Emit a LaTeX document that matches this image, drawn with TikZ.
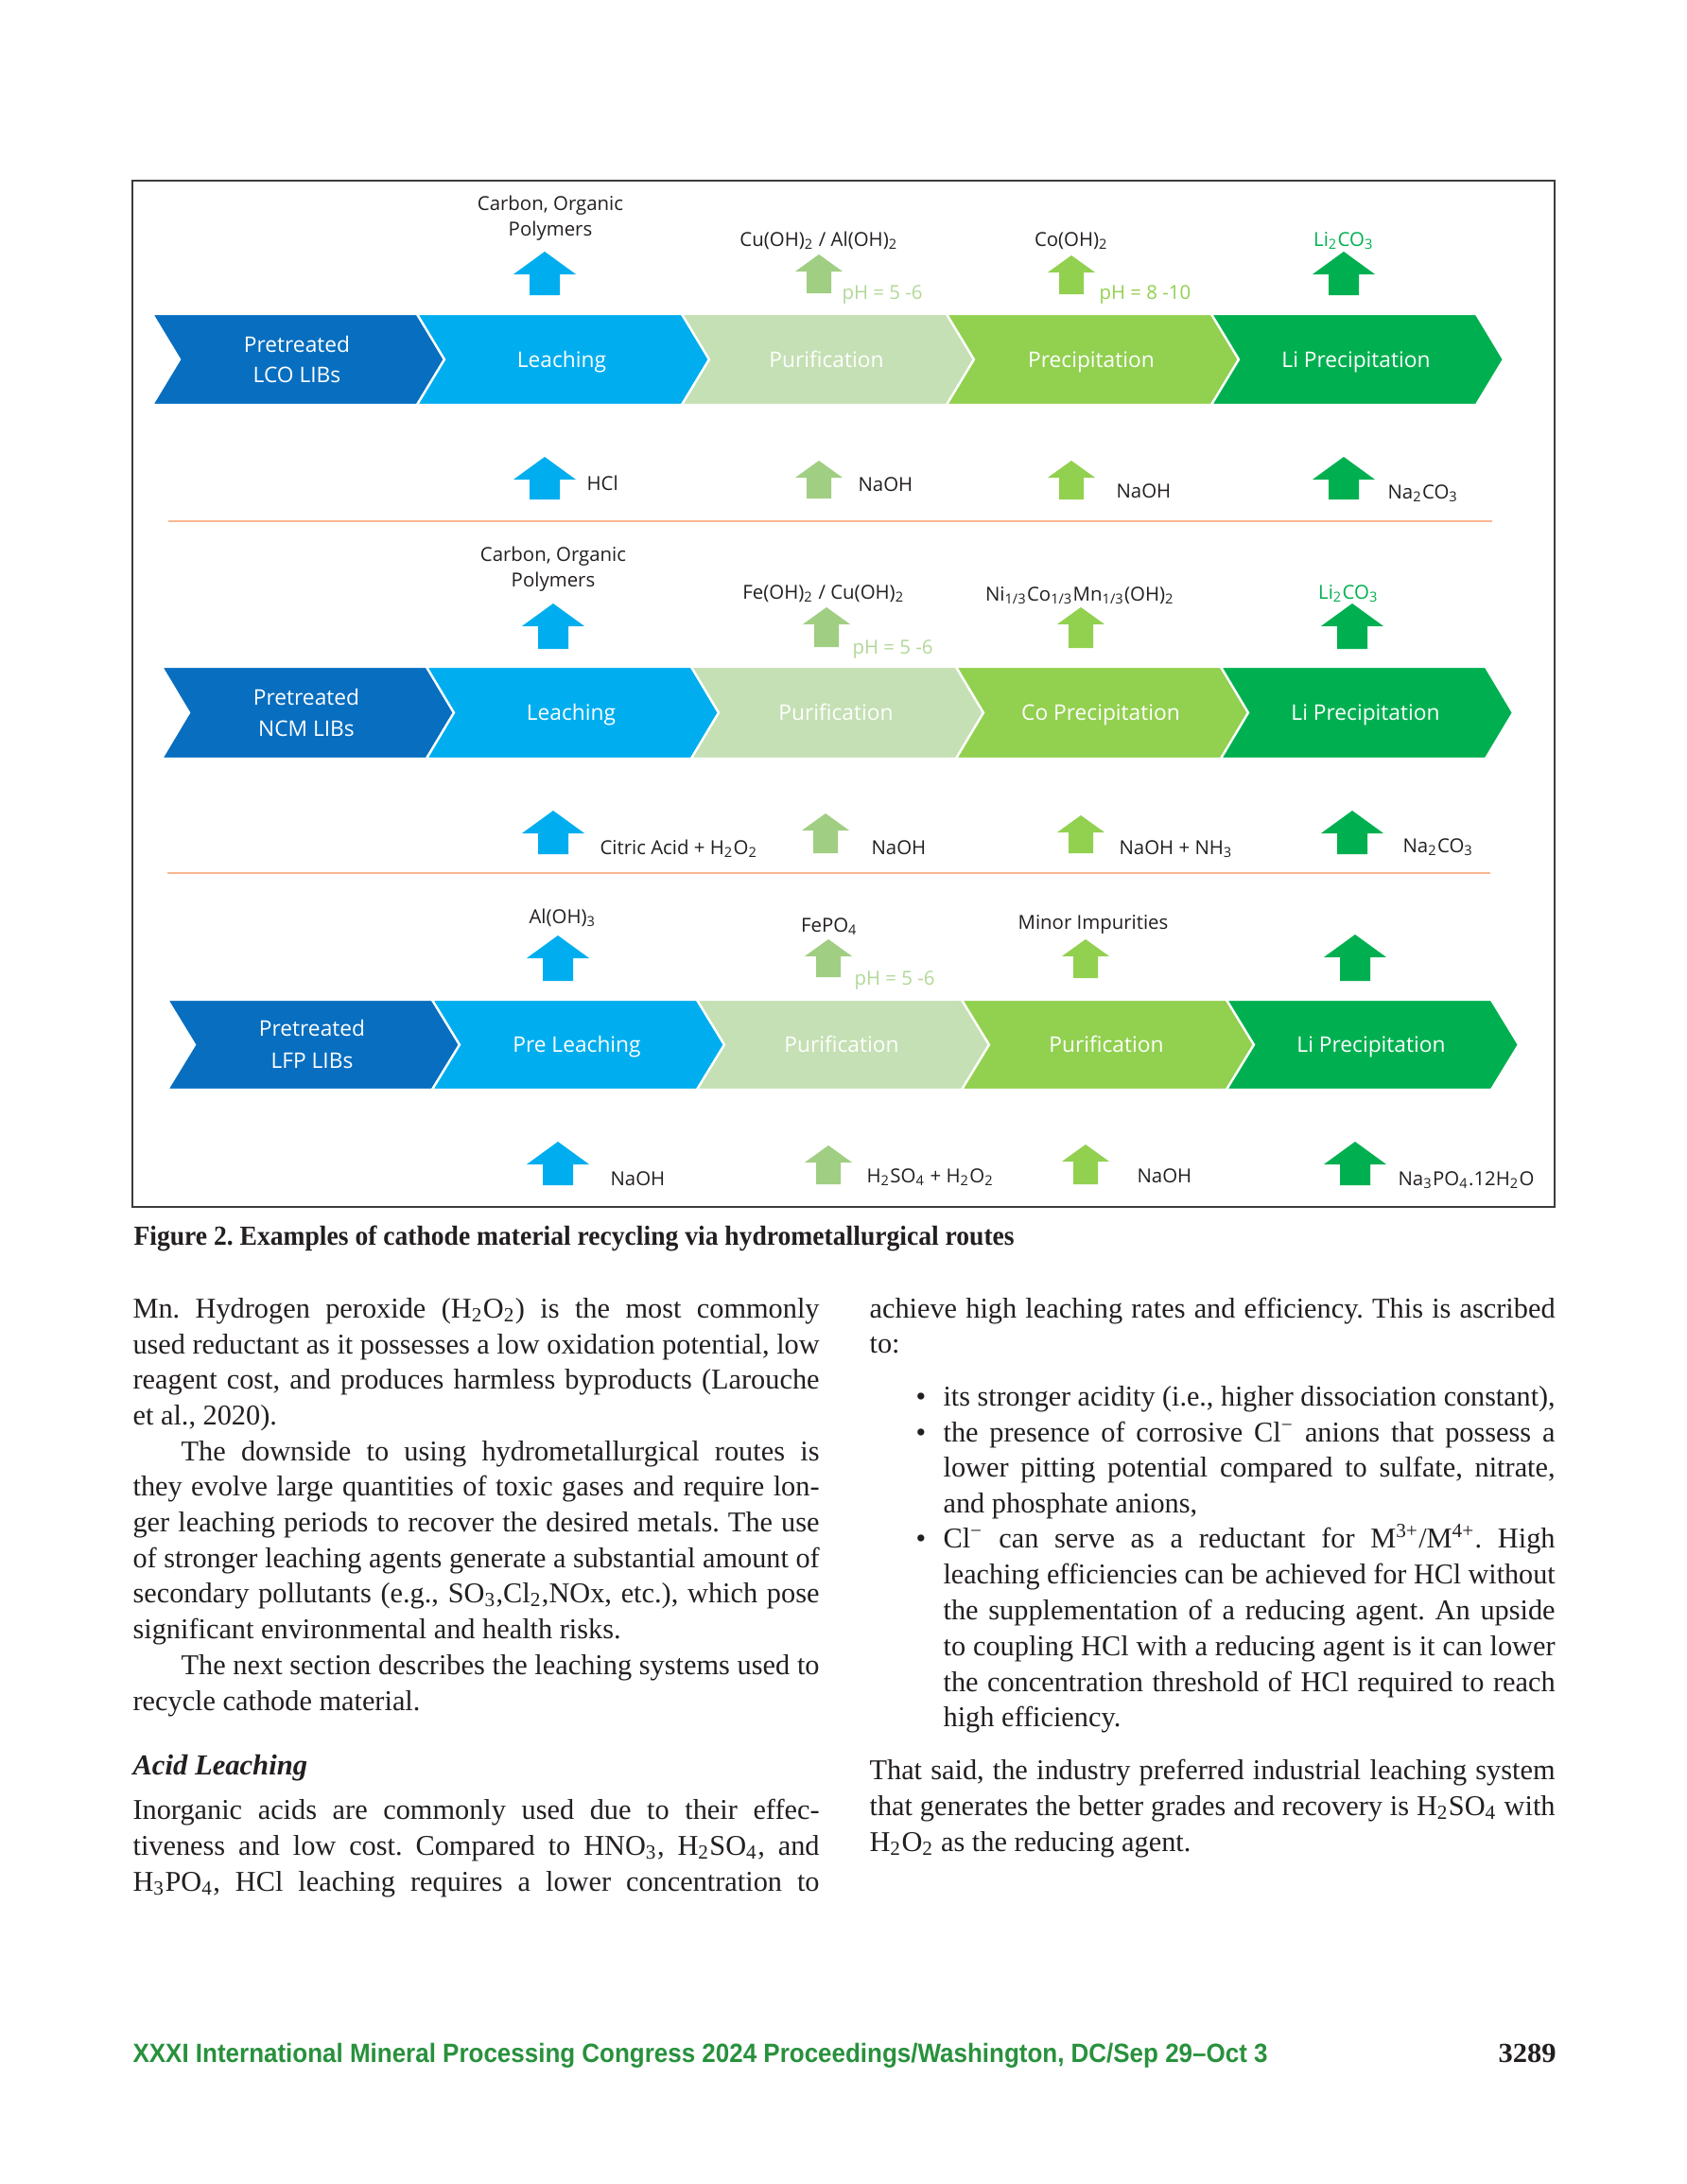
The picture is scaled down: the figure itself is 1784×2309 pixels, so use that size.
\documentclass[tikz,border=0pt]{standalone}
\usepackage{fontspec}
\setmainfont{Liberation Serif}
\newfontfamily\osans{Open Sans}
\newfontfamily\lsans{Liberation Sans}
\usepackage{graphicx}
\frenchspacing
\definecolor{darkblue}{RGB}{8,110,192}
\definecolor{leachblue}{RGB}{0,174,239}
\definecolor{purgreen}{RGB}{197,224,180}
\definecolor{purarrow}{RGB}{160,206,130}
\definecolor{precgreen}{RGB}{146,208,80}
\definecolor{ligreen}{RGB}{0,176,80}
\definecolor{phpale}{RGB}{178,216,152}
\definecolor{sepor}{RGB}{248,184,144}
\definecolor{footgreen}{RGB}{40,145,60}
\definecolor{ink}{RGB}{35,31,32}
\definecolor{framec}{RGB}{60,60,60}
\newdimen\pxu \pxu=0.34305pt
\newsavebox\lbox
\newcommand\jl[2]{\sbox\lbox{#2}\ifdim\wd\lbox>#1\relax\resizebox{#1}{\height}{\usebox\lbox}\else\makebox[#1][s]{#2}\fi}
\newcommand\dn[1]{\textsubscript{#1}}
\newcommand\upx[1]{\textsuperscript{#1}}
\newcommand\bigarr[4]{\fill[#4] (#1,#2) -- (#1+33,#2+24) -- (#1+16,#2+24) -- (#1+16,#3) -- (#1-16,#3) -- (#1-16,#2+24) -- (#1-33,#2+24) -- cycle;}
\newcommand\smarr[4]{\fill[#4] (#1,#2) -- (#1+25,#2+18) -- (#1+13,#2+18) -- (#1+13,#3) -- (#1-13,#3) -- (#1-13,#2+18) -- (#1-25,#2+18) -- cycle;}
\newcommand\chevrow[3]{\foreach \i/\c in {0/darkblue,1/leachblue,2/purgreen,3/precgreen,4/ligreen}{\fill[\c, draw=white, line width=0.8pt, line join=miter] ({#1+\i*280},#2) -- ({#1+\i*280+280},#2) -- ({#1+\i*280+309},{(#2+#3)/2}) -- ({#1+\i*280+280},#3) -- ({#1+\i*280},#3) -- ({#1+\i*280+29},{(#2+#3)/2}) -- cycle;}}
\begin{document}
\begin{tikzpicture}[x=0.34305pt,y=-0.34305pt,
  lab/.style={font=\osans\fontsize{7}{8}\selectfont, text=ink, inner sep=0, anchor=base},
  labw/.style={lab, anchor=base west},
  chl/.style={font=\osans\fontsize{7.8}{9}\selectfont, text=white, inner sep=0, anchor=base},
  body/.style={font=\fontsize{10.4}{12}\selectfont, text=ink, inner sep=0, anchor=base west},
  sep/.style={sepor, line width=0.7pt}]
\useasboundingbox (0,0) rectangle (1784,2309);
\fill[white] (0,0) rectangle (1784,2309);
% frame
\draw[framec, line width=1pt] (140,191) rectangle (1644,1276);
% ---------- row 1 : LCO
\chevrow{161}{332}{428}
\node[chl] (a0a) at (314,372) {Pretreated};
\node[chl] (a0b) at (314,404) {LCO LIBs};
\node[chl] (a1) at (594,388) {Leaching};
\node[chl] (a2) at (874,388) {Purification};
\node[chl] (a3) at (1154,388) {Precipitation};
\node[chl] (a4) at (1434,388) {Li Precipitation};
\node[lab] (at1a) at (582,222) {Carbon, Organic};
\node[lab] (at1b) at (582,249) {Polymers};
\node[lab] (at2) at (866,260) {Cu(OH)\dn{2} / Al(OH)\dn{2}};
\node[lab] (at3) at (1133,260) {Co(OH)\dn{2}};
\node[lab, text=ligreen] (at4) at (1421,260) {Li\dn{2}CO\dn{3}};
\node[labw, text=phpale] (aph1) at (890,316) {pH = 5 -6};
\node[labw, text=precgreen] (aph2) at (1162,316) {pH = 8 -10};
\bigarr{576}{266}{312}{leachblue}
\smarr{866}{269}{310}{purarrow}
\smarr{1133}{270}{311}{precgreen}
\bigarr{1421}{266}{312}{ligreen}
\bigarr{576}{483}{528}{leachblue}
\smarr{866}{487}{527}{purarrow}
\smarr{1133}{487}{528}{precgreen}
\bigarr{1421}{483}{528}{ligreen}
\node[labw] (ab1) at (620,518) {HCl};
\node[labw] (ab2) at (907,519) {NaOH};
\node[labw] (ab3) at (1180,526) {NaOH};
\node[labw] (ab4) at (1467,527) {Na\dn{2}CO\dn{3}};
\draw[sep] (178,551) -- (1578,551);
% ---------- row 2 : NCM
\chevrow{171}{705}{802}
\node[chl] (b0a) at (324,745) {Pretreated};
\node[chl] (b0b) at (324,778) {NCM LIBs};
\node[chl] (b1) at (604,761) {Leaching};
\node[chl] (b2) at (884,761) {Purification};
\node[chl] (b3) at (1164,761) {Co Precipitation};
\node[chl] (b4) at (1444,761) {Li Precipitation};
\node[lab] (bt1a) at (585,593) {Carbon, Organic};
\node[lab] (bt1b) at (585,620) {Polymers};
\node[lab] (bt2) at (871,633) {Fe(OH)\dn{2} / Cu(OH)\dn{2}};
\node[lab] (bt3) at (1142,635) {Ni\dn{1/3}Co\dn{1/3}Mn\dn{1/3}(OH)\dn{2}};
\node[lab, text=ligreen] (bt4) at (1426,633) {Li\dn{2}CO\dn{3}};
\node[labw, text=phpale] (bph1) at (901,691) {pH = 5 -6};
\bigarr{585}{638}{686}{leachblue}
\smarr{874}{642}{684}{purarrow}
\smarr{1143}{642}{685}{precgreen}
\bigarr{1430}{638}{686}{ligreen}
\bigarr{585}{857}{903}{leachblue}
\smarr{873}{860}{902}{purarrow}
\smarr{1143}{862}{902}{precgreen}
\bigarr{1430}{857}{903}{ligreen}
\node[labw] (bb1) at (634,903) {Citric Acid + H\dn{2}O\dn{2}};
\node[labw] (bb2) at (921,903) {NaOH};
\node[labw] (bb3) at (1183,903) {NaOH + NH\dn{3}};
\node[labw] (bb4) at (1483,901) {Na\dn{2}CO\dn{3}};
\draw[sep] (177,923) -- (1576,923);
% ---------- row 3 : LFP
\chevrow{177}{1057}{1152}
\node[chl] (c0a) at (330,1095) {Pretreated};
\node[chl] (c0b) at (330,1129) {LFP LIBs};
\node[chl] (c1) at (610,1112) {Pre Leaching};
\node[chl] (c2) at (890,1112) {Purification};
\node[chl] (c3) at (1170,1112) {Purification};
\node[chl] (c4) at (1450,1112) {Li Precipitation};
\node[lab] (ct1) at (595,976) {Al(OH)\dn{3}};
\node[lab] (ct2) at (877,985) {FePO\dn{4}};
\node[lab] (ct3) at (1156,982) {Minor Impurities};
\node[labw, text=phpale] (cph1) at (903,1041) {pH = 5 -6};
\bigarr{590}{989}{1037}{leachblue}
\smarr{876}{993}{1033}{purarrow}
\smarr{1148}{993}{1034}{precgreen}
\bigarr{1433}{988}{1037}{ligreen}
\bigarr{590}{1207}{1253}{leachblue}
\smarr{876}{1211}{1252}{purarrow}
\smarr{1148}{1210}{1252}{precgreen}
\bigarr{1433}{1207}{1253}{ligreen}
\node[labw] (cb1) at (645,1253) {NaOH};
\node[labw] (cb2) at (916,1250) {H\dn{2}SO\dn{4} + H\dn{2}O\dn{2}};
\node[labw] (cb3) at (1202,1250) {NaOH};
\node[labw] (cb4) at (1478,1253) {Na\dn{3}PO\dn{4}.12H\dn{2}O};
% ---------- caption
\node[body, font=\bfseries\fontsize{10}{12}\selectfont] (cap) at (141,1316) {\resizebox{931\pxu}{\height}{Figure 2. Examples of cathode material recycling via hydrometallurgical routes}};
% ---------- left column
\node[body] (l1) at (140,1393) {\jl{726\pxu}{Mn. Hydrogen peroxide (H\dn{2}O\dn{2}) is the most commonly}};
\node[body] (l2) at (140,1431) {\jl{726\pxu}{used reductant as it possesses a low oxidation potential, low}};
\node[body] (l3) at (140,1468) {\jl{726\pxu}{reagent cost, and produces harmless byproducts (Larouche}};
\node[body] (l4) at (140,1506) {et al., 2020).};
\node[body] (l5) at (191,1544) {\jl{675\pxu}{The downside to using hydrometallurgical routes is}};
\node[body] (l6) at (140,1581) {\jl{726\pxu}{they evolve large quantities of toxic gases and require lon-}};
\node[body] (l7) at (140,1619) {\jl{726\pxu}{ger leaching periods to recover the desired metals. The use}};
\node[body] (l8) at (140,1657) {\jl{726\pxu}{of stronger leaching agents generate a substantial amount of}};
\node[body] (l9) at (140,1694) {\jl{726\pxu}{secondary pollutants (e.g., SO\dn{3},Cl\dn{2},NOx, etc.), which pose}};
\node[body] (l10) at (140,1732) {significant environmental and health risks.};
\node[body] (l11) at (191,1770) {\jl{675\pxu}{The next section describes the leaching systems used to}};
\node[body] (l12) at (140,1808) {recycle cathode material.};
\node[body, font=\bfseries\itshape\fontsize{10.5}{12}\selectfont] (hd) at (140,1876) {Acid Leaching};
\node[body] (l14) at (140,1923) {\jl{726\pxu}{Inorganic acids are commonly used due to their effec-}};
\node[body] (l15) at (140,1961) {\jl{726\pxu}{tiveness and low cost. Compared to HNO\dn{3}, H\dn{2}SO\dn{4}, and}};
\node[body] (l16) at (140,1999) {\jl{726\pxu}{H\dn{3}PO\dn{4}, HCl leaching requires a lower concentration to}};
% ---------- right column
\node[body] (r1) at (919,1393) {\jl{725\pxu}{achieve high leaching rates and efficiency. This is ascribed}};
\node[body] (r2) at (919,1430) {to:};
\node[body] (bu1) at (968,1486) {•};
\node[body] (r3) at (997,1486) {\jl{647\pxu}{its stronger acidity (i.e., higher dissociation constant),}};
\node[body] (bu2) at (968,1524) {•};
\node[body] (r4) at (997,1524) {\jl{647\pxu}{the presence of corrosive Cl\upx{−} anions that possess a}};
\node[body] (r5) at (997,1561) {\jl{647\pxu}{lower pitting potential compared to sulfate, nitrate,}};
\node[body] (r6) at (997,1599) {and phosphate anions,};
\node[body] (bu3) at (968,1636) {•};
\node[body] (r7) at (997,1636) {\jl{647\pxu}{Cl\upx{−} can serve as a reductant for M\upx{3+}/M\upx{4+}. High}};
\node[body] (r8) at (997,1674) {\jl{647\pxu}{leaching efficiencies can be achieved for HCl without}};
\node[body] (r9) at (997,1712) {\jl{647\pxu}{the supplementation of a reducing agent. An upside}};
\node[body] (r10) at (997,1750) {\jl{647\pxu}{to coupling HCl with a reducing agent is it can lower}};
\node[body] (r11) at (997,1788) {\jl{647\pxu}{the concentration threshold of HCl required to reach}};
\node[body] (r12) at (997,1825) {high efficiency.};
\node[body] (r13) at (919,1881) {\jl{725\pxu}{That said, the industry preferred industrial leaching system}};
\node[body] (r14) at (919,1919) {\jl{725\pxu}{that generates the better grades and recovery is H\dn{2}SO\dn{4} with}};
\node[body] (r15) at (919,1957) {H\dn{2}O\dn{2} as the reducing agent.};
% ---------- footer
\node[body, font=\lsans\bfseries\fontsize{9.6}{11}\selectfont, text=footgreen] (ft) at (140,2180) {\resizebox{1200\pxu}{\height}{XXXI International Mineral Processing Congress 2024 Proceedings/Washington, DC/Sep 29–Oct 3}};
\node[body, font=\bfseries\fontsize{10}{12}\selectfont] (pg) at (1584,2180) {\resizebox{61\pxu}{\height}{3289}};
\end{tikzpicture}
\end{document}
